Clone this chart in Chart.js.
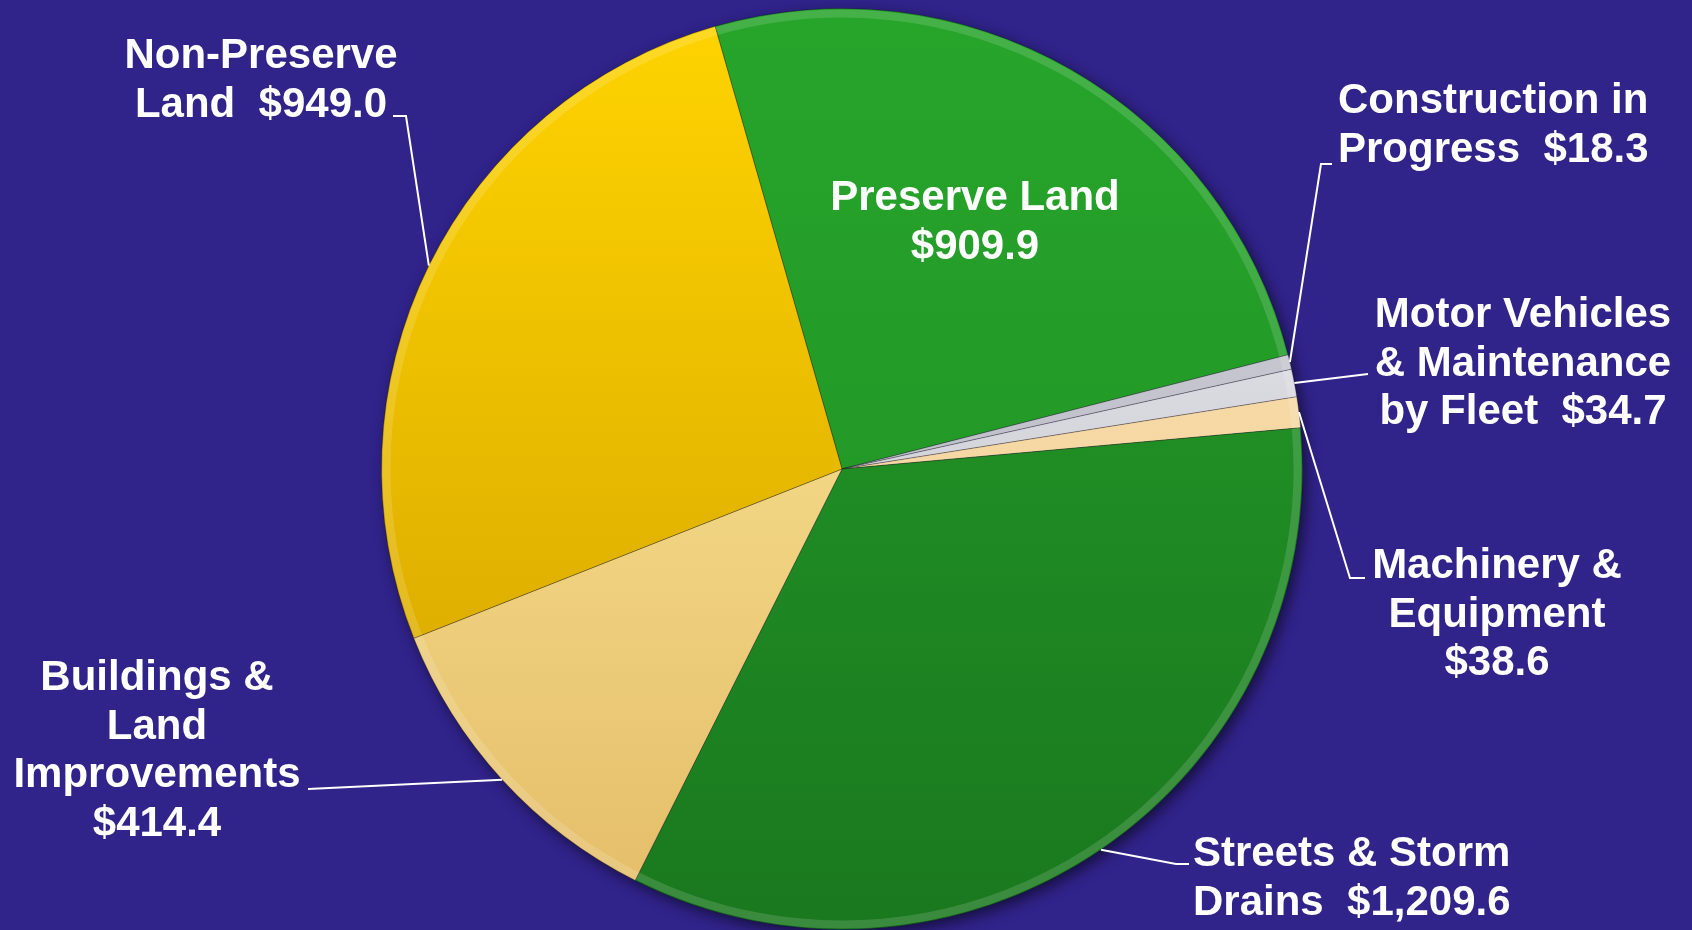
<!DOCTYPE html>
<html>
<head>
<meta charset="utf-8">
<script src="https://cdn.jsdelivr.net/npm/chart.js@4/dist/chart.umd.min.js"></script>
<style>
  html, body { margin: 0; padding: 0; background: #30238a; }
  #wrap { width: 1692px; height: 930px; position: relative; }
</style>
</head>
<body>
<div id="wrap"><canvas id="pie-chart"></canvas></div>
<script>
// 資料
const categories = [
  "Preserve Land",
  "Construction in Progress",
  "Motor Vehicles & Maintenance by Fleet",
  "Machinery & Equipment",
  "Streets & Storm Drains",
  "Buildings & Land Improvements",
  "Non-Preserve Land",
];
const values = [909.9, 18.3, 34.7, 38.6, 1209.6, 414.4, 949.0];

// 漸層色 (上 / 下)
const topColors = ["#27a52b", "#d8d8e0", "#f0f0f4", "#fde6b4", "#24a02a", "#fff0a0", "#ffd400"];
const bottomColors = ["#1f8e23", "#a8a8b4", "#b8b8c2", "#ecc890", "#1a781e", "#e4bc68", "#cf9e00"];

// 標籤位置
const labelLayout = [
  { lines: ["Preserve Land"], inline: false, x: 975, y: 210, align: "center" },
  { lines: ["Construction in", "Progress"], inline: true, x: 1338, y: 113, align: "left", leader: [[1332, 164], [1321, 164]] },
  { lines: ["Motor Vehicles", "& Maintenance", "by Fleet"], inline: true, x: 1523, y: 327, align: "center", leader: [[1368, 374]] },
  { lines: ["Machinery &", "Equipment"], inline: false, x: 1497, y: 578, align: "center", leader: [[1365, 578], [1350, 578]] },
  { lines: ["Streets & Storm", "Drains"], inline: true, x: 1193, y: 866, align: "left", leader: [[1189, 864], [1176, 864]] },
  { lines: ["Buildings &", "Land", "Improvements"], inline: false, x: 157, y: 690, align: "center", leader: [[308, 789]] },
  { lines: ["Non-Preserve", "Land"], inline: true, x: 261, y: 68, align: "center", leader: [[393, 116], [406, 116]] },
];
const lineHeight = 48.5;

const fmt = (v) => "$" + v.toLocaleString("en-US", { minimumFractionDigits: 1, maximumFractionDigits: 1 });

// 陰影
const shadowPlugin = {
  id: "pieShadow",
  beforeDatasetsDraw(chart) {
    const arc = chart.getDatasetMeta(0).data[0];
    if (!arc) return;
    const { x, y, outerRadius } = arc.getProps(["x", "y", "outerRadius"], true);
    const ctx = chart.ctx;
    ctx.save();
    ctx.shadowColor = "rgba(0,0,0,0.55)";
    ctx.shadowBlur = 14;
    ctx.shadowOffsetX = 4;
    ctx.shadowOffsetY = 5;
    ctx.beginPath();
    ctx.arc(x, y, outerRadius, 0, Math.PI * 2);
    ctx.fillStyle = "#30238a";
    ctx.fill();
    ctx.restore();
  },
};

// 邊緣高光 + 標籤
const labelPlugin = {
  id: "outerLabels",
  afterDatasetsDraw(chart) {
    const ctx = chart.ctx;
    const arcs = chart.getDatasetMeta(0).data;
    arcs.forEach((arc) => {
      const { x, y, startAngle, endAngle, outerRadius } = arc.getProps(["x", "y", "startAngle", "endAngle", "outerRadius"], true);
      ctx.save();
      ctx.beginPath();
      ctx.moveTo(x, y);
      ctx.arc(x, y, outerRadius, startAngle, endAngle);
      ctx.closePath();
      ctx.clip();
      ctx.beginPath();
      ctx.arc(x, y, outerRadius - 5, startAngle, endAngle);
      ctx.lineWidth = 8;
      ctx.strokeStyle = "rgba(255,255,255,0.14)";
      ctx.stroke();
      ctx.restore();
    });

    ctx.save();
    ctx.fillStyle = "#ffffff";
    ctx.strokeStyle = "#ffffff";
    ctx.lineWidth = 2;
    ctx.font = "bold 42px 'Liberation Sans', Arial, sans-serif";
    ctx.textBaseline = "alphabetic";
    labelLayout.forEach((lab, i) => {
      const arc = arcs[i];
      const { x, y, startAngle, endAngle, outerRadius } = arc.getProps(["x", "y", "startAngle", "endAngle", "outerRadius"], true);
      if (lab.leader) {
        const mid = (startAngle + endAngle) / 2;
        ctx.beginPath();
        ctx.moveTo(lab.leader[0][0], lab.leader[0][1]);
        lab.leader.slice(1).forEach((p) => ctx.lineTo(p[0], p[1]));
        ctx.lineTo(x + Math.cos(mid) * outerRadius, y + Math.sin(mid) * outerRadius);
        ctx.stroke();
      }
      const lines = lab.lines.slice();
      if (lab.inline) lines[lines.length - 1] += "  " + fmt(values[i]);
      else lines.push(fmt(values[i]));
      ctx.textAlign = lab.align;
      lines.forEach((t, k) => ctx.fillText(t, lab.x, lab.y + k * lineHeight));
    });
    ctx.restore();
  },
};

const pieCtx = document.getElementById("pie-chart").getContext("2d");
const pieChart = new Chart(pieCtx, {
  type: "pie",
  data: {
    labels: categories,
    datasets: [
      {
        data: values,
        backgroundColor: (c) => {
          const area = c.chart.chartArea;
          if (!area) return topColors[c.dataIndex];
          const g = c.chart.ctx.createLinearGradient(0, area.top, 0, area.bottom);
          g.addColorStop(0, topColors[c.dataIndex]);
          g.addColorStop(1, bottomColors[c.dataIndex]);
          return g;
        },
        borderColor: "rgba(0,0,0,0.28)",
        borderWidth: 1,
        hoverOffset: 0,
      },
    ],
  },
  options: {
    responsive: true,
    maintainAspectRatio: false,
    animation: false,
    rotation: -16,
    layout: { padding: { top: 8, right: 8, left: 0, bottom: 0 } },
    plugins: {
      legend: { display: false },
      tooltip: { enabled: false },
    },
  },
  plugins: [shadowPlugin, labelPlugin],
});
</script>
</body>
</html>
